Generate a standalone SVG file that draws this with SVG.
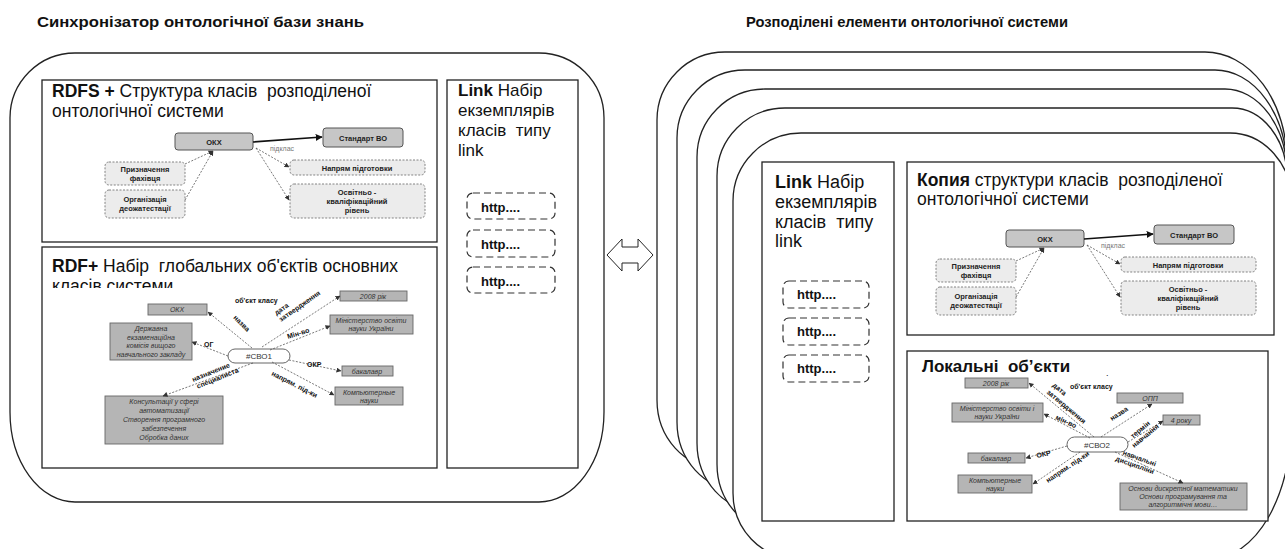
<svg xmlns="http://www.w3.org/2000/svg" width="1285" height="549" viewBox="0 0 1285 549">
<defs>
<style>
text{font-family:"Liberation Sans",Arial,sans-serif;fill:#111}
.ttl{font-size:14px;font-weight:bold}
.hdr{font-size:17.5px;white-space:pre}
.lnk{font-size:17px}
.bx{fill:#fff;stroke:#222;stroke-width:1.3}
.big{fill:#fff;stroke:#222;stroke-width:1.3}
.http{fill:#fff;stroke:#333;stroke-width:1.2;stroke-dasharray:7,4}
.ht{font-size:13px;font-weight:bold}
.cls{fill:#c6c6c6;stroke:#555;stroke-width:1}
.dcls{fill:#ececec;stroke:#777;stroke-width:0.9;stroke-dasharray:2,1.5}
.obj{fill:#b5b5b5;stroke:#666;stroke-width:0.9}
.pill{fill:#fff;stroke:#555;stroke-width:0.9}
.nt{font-size:7.5px;font-weight:bold;fill:#222;text-anchor:middle}
.ot{font-size:7px;font-style:italic;fill:#333;text-anchor:middle}
.pt{font-size:8px;fill:#333;text-anchor:middle}
.el{font-size:7px;font-weight:bold;fill:#111}
.sl{font-size:7px;fill:#777}
.e{fill:none;stroke:#555;stroke-width:0.8;stroke-dasharray:2,1.5;marker-end:url(#ah)}
.sub{fill:none;stroke:#111;stroke-width:1.7;marker-end:url(#ahs)}
</style>
<marker id="ah" viewBox="0 0 10 10" refX="9" refY="5" markerWidth="5" markerHeight="5" markerUnits="userSpaceOnUse" orient="auto"><path d="M0,0 L10,5 L0,10 z" fill="#333"/></marker>
<marker id="ahs" viewBox="0 0 10 10" refX="9" refY="5" markerWidth="7" markerHeight="7" markerUnits="userSpaceOnUse" orient="auto"><path d="M0,0 L10,5 L0,10 z" fill="#111"/></marker>
<clipPath id="rdfclip"><rect x="42" y="247" width="395" height="41"/></clipPath>
</defs>

<g id="titles">
<text class="ttl" x="37" y="27" textLength="327" lengthAdjust="spacingAndGlyphs">Синхронізатор онтологічної бази знань</text>
<text class="ttl" x="746" y="27" textLength="322" lengthAdjust="spacingAndGlyphs">Розподілені елементи онтологічної системи</text>
</g>

<g id="synchronizer">
<path class="big" d="M10,118 A65,65 0 0 1 75,53 H539 A65,65 0 0 1 604,118 V412 A65,90 0 0 1 539,502 H75 A65,90 0 0 1 10,412 Z"/>
</g>

<g id="rdfs-box">
<rect class="bx" x="42" y="80" width="395" height="162"/>
<text class="hdr" x="52" y="97"><tspan font-weight="bold">RDFS +</tspan> Структура класів  розподіленої</text>
<text class="hdr" x="52" y="117">онтологічної системи</text>
</g>

<g id="rdf-box">
<rect class="bx" x="42" y="247" width="395" height="221"/>
<text class="hdr" x="52" y="272"><tspan font-weight="bold">RDF+</tspan> Набір  глобальних об'єктів основних</text>
<text class="hdr" x="52" y="292" clip-path="url(#rdfclip)">класів системи</text>
</g>

<g id="link-left">
<rect class="bx" x="447" y="80" width="131" height="388"/>
<text class="lnk" x="458" y="96"><tspan font-weight="bold">Link</tspan> Набір</text>
<text class="lnk" x="458" y="116">екземплярів</text>
<text class="lnk" x="458" y="136" style="white-space:pre">класів  типу</text>
<text class="lnk" x="458" y="156">link</text>
</g>
<g id="http-l1"><rect class="http" x="467" y="193" width="88" height="26" rx="6"/><text class="ht" x="481" y="212">http....</text></g>
<g id="http-l2"><rect class="http" x="467" y="230" width="88" height="27" rx="6"/><text class="ht" x="481" y="249">http....</text></g>
<g id="http-l3"><rect class="http" x="467" y="267" width="88" height="26" rx="6"/><text class="ht" x="481" y="286">http....</text></g>

<g id="sync-arrow">
<polygon points="607,255 622,239 622,247 638,247 638,239 653,255 638,271 638,263 622,263 622,271" fill="#fff" stroke="#222" stroke-width="1"/>
</g>

<g id="stack">
<path class="big" d="M657,120 A68,68 0 0 1 725,52 H1205 A82,110 0 0 1 1287,162 V328 A80,140 0 0 1 1207,468 H719 A62,68 0 0 1 657,400 Z"/>
<path class="big" d="M677,138 A68,68 0 0 1 745,70 H1215 A72,100 0 0 1 1287,170 V350 A80,140 0 0 1 1207,490 H739 A62,68 0 0 1 677,422 Z"/>
<path class="big" d="M697,157 A68,68 0 0 1 765,89 H1225 A62,85 0 0 1 1287,174 V371 A80,140 0 0 1 1207,511 H759 A62,68 0 0 1 697,443 Z"/>
<path class="big" d="M717,176 A68,68 0 0 1 785,108 H1232 A55,70 0 0 1 1287,178 V392 A80,140 0 0 1 1207,532 H779 A62,68 0 0 1 717,464 Z"/>
<path class="big" d="M733,201 A68,68 0 0 1 801,133 H1230 A62,70 0 0 1 1292,203 V418 A80,140 0 0 1 1212,558 H795 A62,65 0 0 1 733,493 Z"/>
</g>

<g id="link-right">
<rect class="bx" x="762" y="162" width="132" height="359"/>
<text class="lnk" x="775" y="188" style="font-size:18px"><tspan font-weight="bold">Link</tspan> Набір</text>
<text class="lnk" x="775" y="208" style="font-size:18px">екземплярів</text>
<text class="lnk" x="775" y="228" style="font-size:18px;white-space:pre">класів  типу</text>
<text class="lnk" x="775" y="247" style="font-size:18px">link</text>
</g>
<g id="http-r1"><rect class="http" x="783" y="281" width="86" height="27" rx="6"/><text class="ht" x="797" y="299">http....</text></g>
<g id="http-r2"><rect class="http" x="783" y="318" width="86" height="27" rx="6"/><text class="ht" x="797" y="336">http....</text></g>
<g id="http-r3"><rect class="http" x="783" y="355" width="86" height="27" rx="6"/><text class="ht" x="797" y="373">http....</text></g>

<g id="copy-box">
<rect class="bx" x="907" y="162" width="367" height="173"/>
<text class="hdr" x="917" y="186"><tspan font-weight="bold">Копия</tspan> структури класів  розподіленої</text>
<text class="hdr" x="917" y="205">онтологічної системи</text>
</g>

<g id="local-box">
<rect class="bx" x="907" y="351" width="361" height="170"/>
<text x="922" y="372" style="font-size:17px;font-weight:bold;white-space:pre">Локальні  об’єкти</text>
<text x="1106" y="376" style="font-size:9px">.</text>
</g>

<!-- RDFS class graph (left) -->
<g id="rdfs-okx"><rect class="cls" x="175" y="133" width="78" height="17" rx="3"/><text class="nt" x="214" y="144.5">ОКХ</text></g>
<g id="rdfs-std"><rect class="cls" x="323" y="128" width="80" height="19" rx="3"/><text class="nt" x="363" y="140.5">Стандарт ВО</text></g>
<g id="rdfs-pryzn"><rect class="dcls" x="105" y="162" width="80" height="23" rx="4"/><text class="nt" x="145" y="172">Призначення</text><text class="nt" x="145" y="181">фахівця</text></g>
<g id="rdfs-org"><rect class="dcls" x="105" y="190" width="80" height="28" rx="4"/><text class="nt" x="145" y="202">Організація</text><text class="nt" x="145" y="211">деожатестації</text></g>
<g id="rdfs-napr"><rect class="dcls" x="290" y="160" width="135" height="15" rx="4"/><text class="nt" x="357" y="170.5">Напрям підготовки</text></g>
<g id="rdfs-okr"><rect class="dcls" x="290" y="184" width="135" height="34" rx="4"/><text class="nt" x="357" y="195">Освітньо -</text><text class="nt" x="357" y="204">кваліфікаційний</text><text class="nt" x="357" y="213">рівень</text></g>

<!-- Copy class graph (right) -->
<g transform="translate(831,97)">
<g id="copy-okx"><rect class="cls" x="175" y="133" width="78" height="17" rx="3"/><text class="nt" x="214" y="144.5">ОКХ</text></g>
<g id="copy-std"><rect class="cls" x="323" y="128" width="80" height="19" rx="3"/><text class="nt" x="363" y="140.5">Стандарт ВО</text></g>
<g id="copy-pryzn"><rect class="dcls" x="105" y="162" width="80" height="23" rx="4"/><text class="nt" x="145" y="172">Призначення</text><text class="nt" x="145" y="181">фахівця</text></g>
<g id="copy-org"><rect class="dcls" x="105" y="190" width="80" height="28" rx="4"/><text class="nt" x="145" y="202">Організація</text><text class="nt" x="145" y="211">деожатестації</text></g>
<g id="copy-napr"><rect class="dcls" x="290" y="160" width="135" height="15" rx="4"/><text class="nt" x="357" y="170.5">Напрям підготовки</text></g>
<g id="copy-okr"><rect class="dcls" x="290" y="184" width="135" height="34" rx="4"/><text class="nt" x="357" y="195">Освітньо -</text><text class="nt" x="357" y="204">кваліфікаційний</text><text class="nt" x="357" y="213">рівень</text></g>
</g>

<!-- RDF global objects graph -->
<g id="rdf-okx"><rect class="obj" x="148" y="304" width="59" height="11"/><text class="ot" x="177" y="312">ОКХ</text></g>
<g id="rdf-2008"><rect class="obj" x="340" y="291" width="67" height="10"/><text class="ot" x="373" y="299">2008 рік</text></g>
<g id="rdf-min"><rect class="obj" x="330" y="315" width="83" height="19"/><text class="ot" x="371" y="323">Міністерство освіти</text><text class="ot" x="371" y="331">науки України</text></g>
<g id="rdf-dek"><rect class="obj" x="110" y="323" width="82" height="37"/><text class="ot" x="151" y="331">Державна</text><text class="ot" x="151" y="339.5">екзаменаційна</text><text class="ot" x="151" y="348">комісія вищого</text><text class="ot" x="151" y="356.5">навчального закладу</text></g>
<g id="rdf-cvo1"><rect class="pill" x="228" y="349" width="62" height="14" rx="7"/><text class="pt" x="259" y="359">#СВО1</text></g>
<g id="rdf-bak"><rect class="obj" x="342" y="366" width="51" height="10"/><text class="ot" x="367" y="374">бакалавр</text></g>
<g id="rdf-komp"><rect class="obj" x="335" y="387" width="68" height="18"/><text class="ot" x="369" y="395">Компьютерные</text><text class="ot" x="369" y="403">науки</text></g>
<g id="rdf-kons"><rect class="obj" x="105" y="396" width="118" height="48"/><text class="ot" x="164" y="404">Консультації у сфері</text><text class="ot" x="164" y="413">автоматизації</text><text class="ot" x="164" y="422">Створення програмного</text><text class="ot" x="164" y="431">забезпечення</text><text class="ot" x="164" y="440">Обробка даних</text></g>
<text class="el" x="235" y="303">об'єкт класу</text>

<!-- Local objects graph -->
<g id="loc-2008"><rect class="obj" x="965" y="378" width="63" height="10"/><text class="ot" x="996" y="386">2008 рік</text></g>
<g id="loc-min"><rect class="obj" x="952" y="403" width="91" height="19"/><text class="ot" x="997" y="411">Міністерство освіти і</text><text class="ot" x="997" y="419">науки України</text></g>
<g id="loc-opp"><rect class="obj" x="1117" y="393" width="66" height="10"/><text class="ot" x="1150" y="401">ОПП</text></g>
<g id="loc-4"><rect class="obj" x="1163" y="415" width="37" height="10"/><text class="ot" x="1181" y="423">4 року</text></g>
<g id="loc-cvo2"><rect class="pill" x="1067" y="437" width="61" height="15" rx="7.5"/><text class="pt" x="1097" y="447.5">#СВО2</text></g>
<g id="loc-bak"><rect class="obj" x="968" y="453" width="57" height="10"/><text class="ot" x="996" y="461">бакалавр</text></g>
<g id="loc-komp"><rect class="obj" x="958" y="475" width="74" height="18"/><text class="ot" x="995" y="483">Компьютерные</text><text class="ot" x="995" y="491">науки</text></g>
<g id="loc-osn"><rect class="obj" x="1120" y="483" width="127" height="27"/><text class="ot" x="1183" y="491">Основи дискретної математики</text><text class="ot" x="1183" y="499">Основи програмування та</text><text class="ot" x="1183" y="507">алгоритмічні мови…</text></g>
<text class="el" x="1070" y="389">об'єкт класу</text>

<g id="connectors">
<line class="sub" x1="253" y1="142" x2="322" y2="137"/>
<text class="sl" x="270" y="151">підклас</text>
<line class="e" x1="185" y1="164" x2="213" y2="151"/>
<line class="e" x1="185" y1="200" x2="213" y2="151"/>
<line class="e" x1="256" y1="148" x2="289" y2="167"/>
<line class="e" x1="256" y1="148" x2="289" y2="200"/>
<line class="sub" x1="1084" y1="239" x2="1153" y2="234"/>
<text class="sl" x="1101" y="248">підклас</text>
<line class="e" x1="1016" y1="261" x2="1044" y2="248"/>
<line class="e" x1="1016" y1="297" x2="1044" y2="248"/>
<line class="e" x1="1087" y1="245" x2="1120" y2="264"/>
<line class="e" x1="1087" y1="245" x2="1120" y2="297"/>
<line class="e" x1="252" y1="348" x2="208" y2="312"/>
<text class="el" transform="translate(233,318) rotate(45)">назва</text>
<line class="e" x1="262" y1="347" x2="340" y2="296"/>
<text class="el" transform="translate(281,322) rotate(-35)"><tspan x="0" y="-8">дата</tspan><tspan x="0" y="0">затвердження</tspan></text>
<line class="e" x1="270" y1="350" x2="330" y2="326"/>
<text class="el" transform="translate(288,339) rotate(-17)">Мін-во</text>
<line class="e" x1="228" y1="356" x2="192" y2="342"/>
<text class="el" x="204" y="347">ОГ</text>
<line class="e" x1="289" y1="360" x2="341" y2="371"/>
<text class="el" x="307" y="367">ОКР</text>
<line class="e" x1="272" y1="362" x2="334" y2="395"/>
<text class="el" transform="translate(271,375) rotate(27)">напрям. під-ки</text>
<line class="e" x1="253" y1="363" x2="163" y2="396"/>
<text class="el" text-anchor="middle" transform="translate(216,377) rotate(-22)"><tspan x="-3" y="-4">назначение</tspan><tspan x="1" y="4">специалиста</tspan></text>
<line class="e" x1="1094" y1="437" x2="1029" y2="383"/>
<text class="el" transform="translate(1052,386) rotate(40)"><tspan x="0" y="0">дата</tspan><tspan x="0" y="9">затвердження</tspan></text>
<line class="e" x1="1090" y1="438" x2="1044" y2="414"/>
<text class="el" transform="translate(1055,419) rotate(25)">мін-во</text>
<line class="e" x1="1101" y1="437" x2="1152" y2="404"/>
<text class="el" transform="translate(1112,421) rotate(-33)">назва</text>
<line class="e" x1="1128" y1="442" x2="1163" y2="421"/>
<text class="el" text-anchor="middle" transform="translate(1143,433) rotate(-40)"><tspan x="0" y="-2">термін</tspan><tspan x="0" y="6">навчання</tspan></text>
<line class="e" x1="1067" y1="446" x2="1026" y2="458"/>
<text class="el" transform="translate(1037,458) rotate(-12)">ОКР</text>
<line class="e" x1="1080" y1="452" x2="1033" y2="484"/>
<text class="el" transform="translate(1048,483) rotate(-34)">напрям. під-ки</text>
<line class="e" x1="1115" y1="452" x2="1183" y2="483"/>
<text class="el" text-anchor="middle" transform="translate(1137,462) rotate(20)"><tspan x="1" y="-2">навчальні</tspan><tspan x="-1" y="6">дисципліни</tspan></text>
</g>
</svg>
